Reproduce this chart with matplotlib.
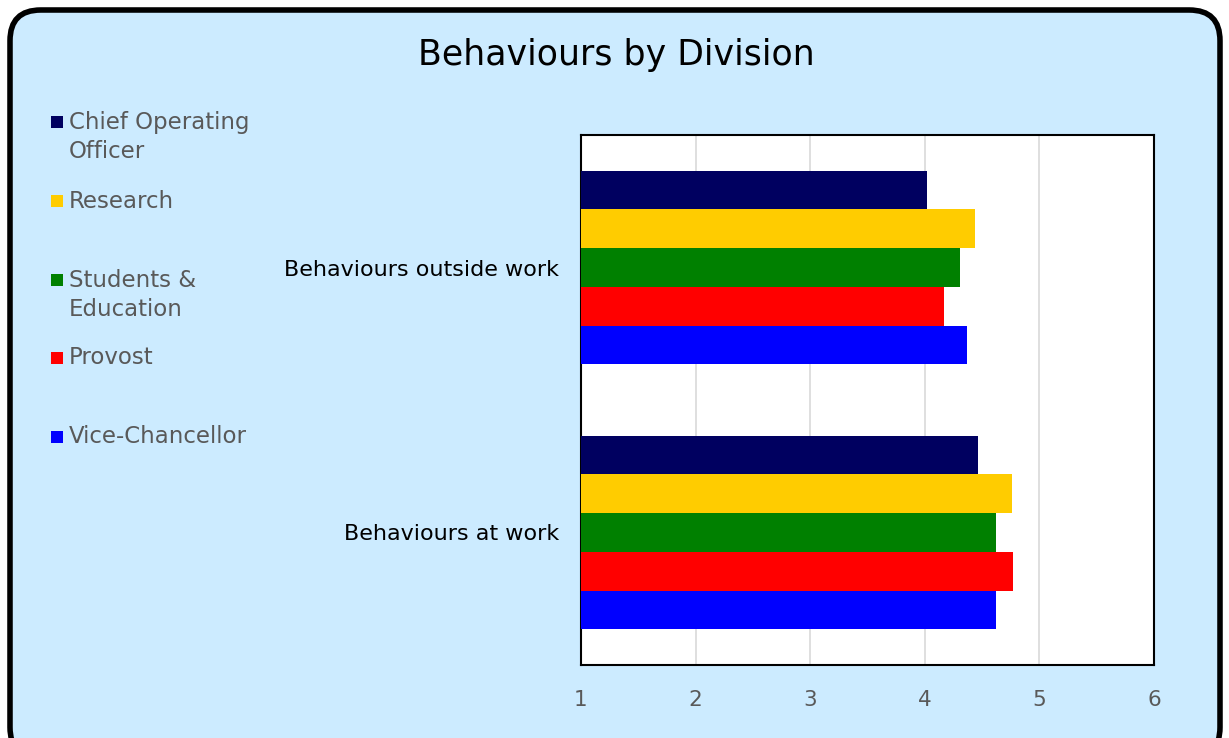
import matplotlib
matplotlib.use('Agg')
import matplotlib.pyplot as plt
from matplotlib.patches import FancyBboxPatch, Rectangle
import numpy as np

categories = ['Behaviours at work', 'Behaviours outside work']
series = ['Chief Operating\nOfficer', 'Research', 'Students &\nEducation', 'Provost', 'Vice-Chancellor']
colors = ['#000060', '#FFCC00', '#008000', '#FF0000', '#0000FF']
values = {
    'Chief Operating\nOfficer': [4.46, 4.02],
    'Research': [4.76, 4.44],
    'Students &\nEducation': [4.62, 4.31],
    'Provost': [4.77, 4.165],
    'Vice-Chancellor': [4.62, 4.37],
}
legend_y = [122, 201, 280, 358, 437]  # pixel rows of the first line of each legend entry

W, H = 1229, 738
plt.rcParams['font.family'] = ['DejaVu Sans']
fig = plt.figure(figsize=(W / 100, H / 100), dpi=100)
fig.patch.set_facecolor('white')

# rounded frame
frame = FancyBboxPatch((10 / W, -20 / H), 1210 / W, (H + 10) / H,
                       boxstyle='round,pad=0,rounding_size=0.025',
                       transform=fig.transFigure, facecolor='#CCEBFF',
                       edgecolor='black', linewidth=4, zorder=-5,
                       mutation_aspect=W / H)
fig.patches.append(frame)

ax = fig.add_axes([581 / W, (H - 665) / H, (1154 - 581) / W, (665 - 135) / H])
ax.set_facecolor('white')

n = len(series)
h = 0.146
y = np.arange(len(categories))
for i, s in enumerate(series):
    offset = (n - 1) / 2 * h - i * h
    ax.barh(y + offset, np.array(values[s]) - 1, left=1, height=h,
            color=colors[i], zorder=3)

ax.set_xlim(1, 6)
ax.set_ylim(-0.5, 1.5)
ax.set_xticks([1, 2, 3, 4, 5, 6])
ax.set_yticks(y)
ax.set_yticklabels(categories, fontsize=16, color='black')
ax.tick_params(axis='x', length=0, pad=18, labelsize=15.5, labelcolor='#595959')
ax.tick_params(axis='y', length=0, pad=16)
ax.grid(axis='x', color='#D9D9D9', linewidth=1.2, zorder=0)
for sp in ax.spines.values():
    sp.set_color('black')
    sp.set_linewidth(1.5)

fig.text(616 / W, 1 - 55 / H, 'Behaviours by Division', ha='center', va='center',
         fontsize=25, color='black')

# legend
for i, s in enumerate(series):
    yc = legend_y[i]
    fig.patches.append(Rectangle((51 / W, 1 - (yc + 6) / H), 12 / W, 12 / H,
                                 transform=fig.transFigure, facecolor=colors[i],
                                 edgecolor='none'))
    for j, line in enumerate(s.split('\n')):
        fig.text(69 / W, 1 - (yc + 30 * j) / H, line, ha='left', va='center',
                 fontsize=16.5, color='#595959')

fig.savefig('out.png', dpi=100)
